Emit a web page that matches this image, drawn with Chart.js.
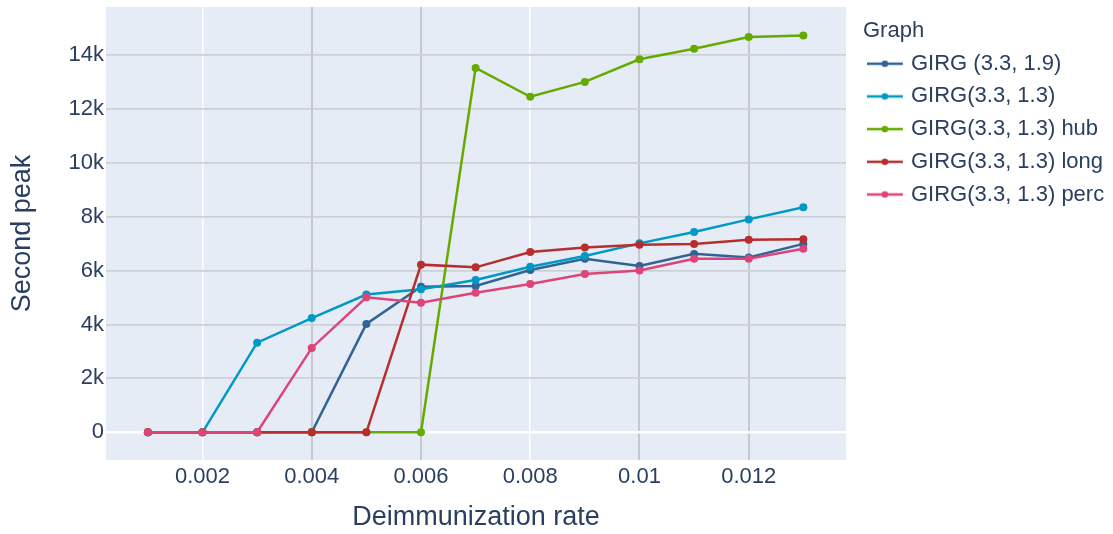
<!DOCTYPE html>
<html>
<head>
<meta charset="utf-8">
<script src="https://cdn.jsdelivr.net/npm/chart.js@4.4.1/dist/chart.umd.min.js"></script>
<style>
  html, body { margin: 0; padding: 0; background: #ffffff; }
  #wrap { width: 1113px; height: 534px; }
</style>
</head>
<body>
<div id="wrap"><canvas id="c" width="1113" height="534"></canvas></div>
<script>
// ---- data ----
const rates = [0.001, 0.002, 0.003, 0.004, 0.005, 0.006, 0.007, 0.008, 0.009, 0.010, 0.011, 0.012, 0.013];
const seriesNames = ['GIRG (3.3, 1.9)', 'GIRG(3.3, 1.3)', 'GIRG(3.3, 1.3) hub', 'GIRG(3.3, 1.3) long', 'GIRG(3.3, 1.3) perc'];
const girg19 = [0, 0, 0, 0, 4020, 5400, 5430, 6020, 6440, 6170, 6620, 6490, 6990];
const girg13 = [0, 0, 3325, 4240, 5110, 5310, 5650, 6140, 6540, 7010, 7430, 7900, 8350];
const girg13hub = [0, 0, 0, 0, 0, 0, 13520, 12450, 13000, 13840, 14230, 14670, 14720];
const girg13long = [0, 0, 0, 0, 0, 6220, 6120, 6690, 6860, 6960, 6990, 7140, 7160];
const girg13perc = [0, 0, 0, 3130, 5010, 4810, 5180, 5500, 5870, 6000, 6440, 6440, 6810];
const xTickValues = [0.002, 0.004, 0.006, 0.008, 0.010, 0.012];
const xTickLabels = ['0.002', '0.004', '0.006', '0.008', '0.01', '0.012'];
const yTickValues = [0, 2000, 4000, 6000, 8000, 10000, 12000, 14000];
const yTickLabels = ['0', '2k', '4k', '6k', '8k', '10k', '12k', '14k'];

// ---- styles ----
const colors = ['#316395', '#0099C6', '#66AA00', '#B82E2E', '#DD4477'];
const FONT = "'Liberation Sans', Arial, sans-serif";
const TXT = '#2a3f5f';
const xGridGray = [false, true, true, false, true, true];

const allSeries = [girg19, girg13, girg13hub, girg13long, girg13perc];

function legendSymbol(color) {
  const cv = document.createElement('canvas');
  cv.width = 40; cv.height = 10;
  const g = cv.getContext('2d');
  g.strokeStyle = color; g.lineWidth = 2.5;
  g.beginPath(); g.moveTo(0, 5); g.lineTo(36, 5); g.stroke();
  g.fillStyle = color;
  g.beginPath(); g.arc(18, 5, 3.3, 0, Math.PI * 2); g.fill();
  return cv;
}
const symbols = colors.map(legendSymbol);

// force legend width (vertical legend on the right)
const LegendClass = Chart.Legend && Chart.Legend._element;
if (LegendClass && LegendClass.prototype && LegendClass.prototype.fit) {
  const origFit = LegendClass.prototype.fit;
  LegendClass.prototype.fit = function () {
    origFit.call(this);
    if (!this.isHorizontal()) this.width = 250;
  };
}

function noEdgePadding(s) {
  s.paddingTop = 0; s.paddingBottom = 0; s.paddingLeft = 0; s.paddingRight = 0;
}

const plotBg = {
  id: 'plotBg',
  beforeDraw(chart) {
    const {ctx, chartArea: a} = chart;
    ctx.save();
    ctx.fillStyle = '#E5ECF6';
    ctx.fillRect(a.left, a.top, a.right - a.left, a.bottom - a.top);
    ctx.restore();
  }
};

const datasets = seriesNames.map((name, i) => ({
  label: name,
  data: rates.map((r, j) => ({x: r, y: allSeries[i][j]})),
  borderColor: colors[i],
  backgroundColor: colors[i],
  borderWidth: 2.5,
  pointRadius: 4,
  pointBorderWidth: 0,
  pointBackgroundColor: colors[i],
  tension: 0,
  fill: false,
  order: seriesNames.length - 1 - i
}));

new Chart(document.getElementById('c'), {
  type: 'line',
  data: { datasets },
  plugins: [plotBg],
  options: {
    responsive: false,
    animation: false,
    layout: { padding: { top: 7, right: 0, bottom: 0, left: 0 } },
    plugins: {
      tooltip: { enabled: false },
      legend: {
        position: 'right',
        align: 'start',
        title: {
          display: true,
          text: 'Graph',
          position: 'start',
          color: TXT,
          font: { family: FONT, size: 22, lineHeight: 1 },
          padding: { top: 13, bottom: 0 }
        },
        labels: {
          color: TXT,
          font: { family: FONT, size: 22 },
          padding: 10.7,
          usePointStyle: true,
          pointStyleWidth: 26.3,
          generateLabels(chart) {
            return chart.data.datasets.map((d, i) => ({
              text: d.label,
              fillStyle: d.borderColor,
              strokeStyle: d.borderColor,
              fontColor: TXT,
              lineWidth: 0,
              pointStyle: symbols[i],
              hidden: false,
              datasetIndex: i
            }));
          }
        }
      }
    },
    scales: {
      x: {
        type: 'linear',
        position: 'bottom',
        min: 0.000233,
        max: 0.013781,
        afterBuildTicks(s) { s.ticks = xTickValues.map(v => ({value: v})); },
        afterFit(s) { s.height = 74; noEdgePadding(s); },
        ticks: {
          color: TXT,
          font: { family: FONT, size: 22 },
          padding: 4,
          maxRotation: 0,
          autoSkip: false,
          callback(v, i) { return xTickLabels[i]; }
        },
        grid: {
          drawTicks: false,
          color(c) { return xGridGray[c.index] ? '#c5c8cd' : '#ffffff'; },
          lineWidth(c) { return xGridGray[c.index] ? 2 : 1.5; }
        },
        border: { display: false },
        title: {
          display: true,
          text: 'Deimmunization rate',
          color: TXT,
          font: { family: FONT, size: 27, lineHeight: 1.2 },
          padding: { top: 0, bottom: 0 }
        }
      },
      y: {
        type: 'linear',
        position: 'left',
        min: -1028,
        max: 15780,
        afterBuildTicks(s) { s.ticks = yTickValues.map(v => ({value: v})); },
        afterFit(s) { s.width = 106; noEdgePadding(s); },
        ticks: {
          color: TXT,
          font: { family: FONT, size: 22 },
          padding: 2,
          autoSkip: false,
          callback(v, i) { return yTickLabels[i]; }
        },
        grid: {
          drawTicks: false,
          color(c) { return c.tick && c.tick.value === 0 ? '#ffffff' : '#ccd1d8'; },
          lineWidth(c) { return c.tick && c.tick.value === 0 ? 2.5 : 1.8; }
        },
        border: { display: false },
        title: {
          display: true,
          text: 'Second peak',
          color: TXT,
          font: { family: FONT, size: 27, lineHeight: 1.2 },
          padding: { top: 6, bottom: 0 }
        }
      },
      yPad: {
        type: 'linear',
        position: 'right',
        display: true,
        grid: { display: false },
        border: { display: false },
        ticks: { display: false },
        afterFit(s) { s.width = 17; noEdgePadding(s); }
      }
    }
  }
});
</script>
</body>
</html>
